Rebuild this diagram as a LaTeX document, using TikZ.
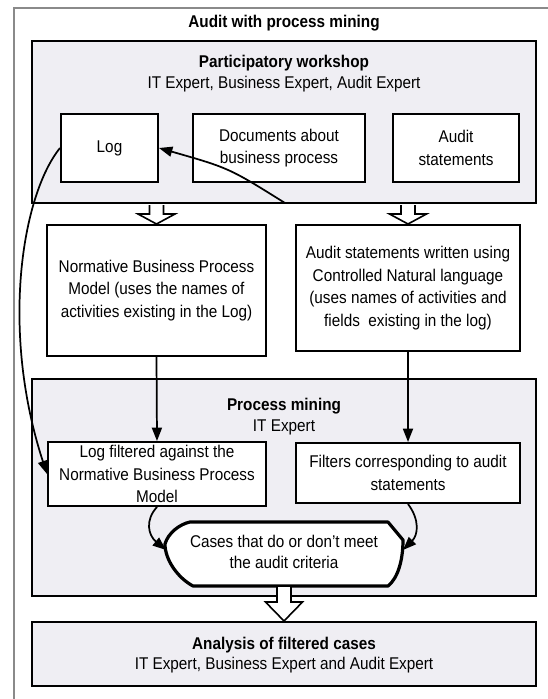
\documentclass[tikz,border=0pt]{standalone}
\usepackage{fontspec}
\setmainfont{Liberation Sans}[FakeStretch=0.9]
\usetikzlibrary{calc,arrows.meta}

\definecolor{panelfill}{HTML}{EFEEF3}
\definecolor{framegray}{HTML}{8A8A8A}

\tikzset{
  panel/.style={draw=black, line width=1.5pt, fill=panelfill, inner sep=0pt},
  ibox/.style={draw=black, line width=1.5pt, fill=white, align=center, inner sep=0pt,
    font=\fontsize{12.75}{16.9}\selectfont},
  head/.style={font=\fontsize{12.75}{15}\selectfont\bfseries, inner sep=0pt},
  sub/.style={font=\fontsize{12.75}{15}\selectfont, inner sep=0pt},
  ctext/.style={align=center, inner sep=0pt, font=\fontsize{12.75}{16}\selectfont},
  flow/.style={line width=1.3pt, -{Triangle[length=10pt,width=7.5pt]}},
  harrow/.style={draw=black, line width=1.2pt, fill=white, line join=miter},
  caseshape/.style={draw=black, line width=2.4pt, fill=white, line join=round},
}

% block arrow from a point on a panel edge (#1) down to a tip (#2), head length #3
\newcommand{\hollowarrow}[3]{%
  \draw[harrow] ($(#1)+(-7,1)$) -- ($(#2)+(-7,-#3)$) -- ($(#2)+(-18.5,-#3)$) -- (#2)
    -- ($(#2)+(18.5,-#3)$) -- ($(#2)+(7,-#3)$) -- ($(#1)+(7,1)$);}

\begin{document}
\begin{tikzpicture}[x=0.75pt,y=-0.75pt]
\useasboundingbox (0,0) rectangle (548,699);
\fill[white] (0,0) rectangle (548,699);

% outer frame
\draw[framegray, line width=1.1pt] (548,8) -- (14,8) -- (14,699);
\node[head] (title) at (284,23) {Audit with process mining};

% participatory workshop
\node[panel, minimum width=378pt, minimum height=121.5pt] (workshop) at (284,122) {};
\node[head] (wshead) at (284,63) {Participatory workshop};
\node[sub]  (wssub)  at (284,84) {IT Expert, Business Expert, Audit Expert};

\node[ibox, minimum width=72.75pt, minimum height=51pt] (log) at (109.5,148) {Log};
\node[ibox, minimum width=129pt, minimum height=51pt] (docs) at (279,148) {Documents about\\business process};
\node[ibox, minimum width=94.5pt, minimum height=51pt] (auditst) at (456,148) {Audit\\statements};

% models built in the workshop
\node[ibox, minimum width=164.25pt, minimum height=98.25pt] (normative) at (156.5,290.5)
  {Normative Business Process\\Model (uses the names of\\activities existing in the Log)};
\node[ibox, minimum width=168pt, minimum height=94.5pt] (auditw) at (408,288)
  {Audit statements written using\\Controlled Natural language\\(uses names of activities and\\fields\ \ existing in the log)};

% process mining
\node[panel, minimum width=378pt, minimum height=162.75pt] (mining) at (284,487.5) {};
\node[head] (pmhead) at (284,406) {Process mining};
\node[sub]  (pmsub)  at (284,427) {IT Expert};

\node[ibox, minimum width=163.5pt, minimum height=48pt] (logf) at (157,474)
  {Log filtered against the\\Normative Business Process\\Model};
\node[ibox, minimum width=168pt, minimum height=45pt] (filters) at (408,473)
  {Filters corresponding to audit\\statements};

% result shape
\draw[caseshape] (190,522) -- (388,522) -- (403,540)
  .. controls (403,560) and (398,578) .. (388,586) -- (193,586)
  .. controls (178,578) and (165,560) .. (165,544)
  .. controls (168,533) and (180,524) .. (190,522) -- cycle;
\node[ctext] (cases) at (284,552) {Cases that do or don’t meet\\the audit criteria};
\coordinate (casesL) at (166,550);
\coordinate (casesR) at (403,550);
\coordinate (casesB) at (284,586);

% analysis
\node[panel, minimum width=378pt, minimum height=48pt] (analysis) at (284,654) {};
\node[head] (anhead) at (284,645) {Analysis of filtered cases};
\node[sub]  (ansub)  at (284,665) {IT Expert, Business Expert and Audit Expert};

% block arrows
\coordinate (h1top) at (workshop.south -| normative.north);
\coordinate (h2top) at (workshop.south -| auditw.north);
\hollowarrow{h1top}{normative.north}{10}
\hollowarrow{h2top}{auditw.north}{10}
\hollowarrow{casesB}{analysis.north}{19}

% connectors
\coordinate (docsrc) at (285,203);
\draw[flow] (docsrc) .. controls (229,168) .. (log.east);
\draw[flow] (log.west) .. controls (22,195) and (0,330) .. (logf.west);
\draw[flow] (normative.south) -- (logf.north);
\draw[flow] (auditw.south) -- (filters.north);
\draw[flow] (logf.south) .. controls (145,520) and (148,535) .. (casesL);
\draw[flow] (filters.south) .. controls (420,520) and (418,535) .. (casesR);
\end{tikzpicture}
\end{document}
